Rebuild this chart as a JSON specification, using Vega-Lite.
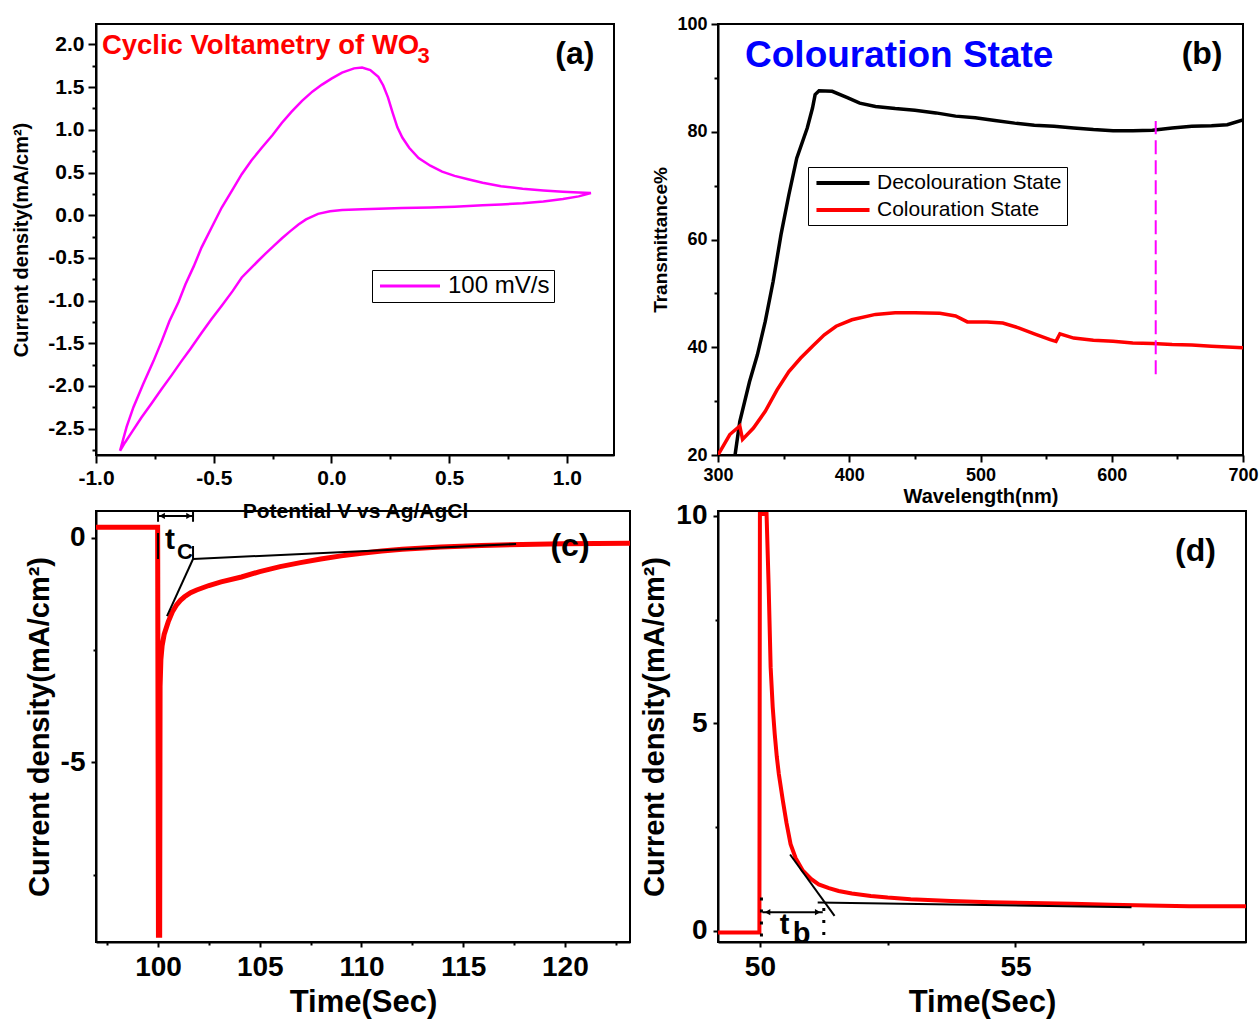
{
  "$schema": "https://vega.github.io/schema/vega-lite/v6.json",
  "background": "white",
  "padding": {"left": 10, "top": 14, "right": 1, "bottom": 1},
  "bounds": "flush",
  "columns": 2,
  "spacing": {"row": 56, "column": 88},
  "config": {
    "font": "Liberation Sans",
    "view": {"stroke": "black", "strokeWidth": 2},
    "axis": {"domainColor": "black", "domainWidth": 2, "tickColor": "black", "tickWidth": 2, "labelColor": "black", "titleColor": "black", "labelFont": "Liberation Sans", "titleFont": "Liberation Sans", "labelFontWeight": "bold", "titleFontWeight": "bold", "grid": false, "labelFlush": false, "labelOverlap": false}
  },
  "resolve": {"scale": {"x": "independent", "y": "independent", "color": "independent"}, "legend": {"color": "independent"}},
  "concat": [
        {
          "width": 518, "height": 431,
          "resolve": {"axis": {"y": "independent"}},
          "layer": [
            {
              "data": {"values": [
                {"i":1,"V":-0.898,"J":-2.76,"s":"100 mV/s"},{"i":2,"V":-0.87,"J":-2.48,"s":"100 mV/s"},{"i":3,"V":-0.841,"J":-2.25,"s":"100 mV/s"},{"i":4,"V":-0.8,"J":-1.98,"s":"100 mV/s"},{"i":5,"V":-0.756,"J":-1.71,"s":"100 mV/s"},{"i":6,"V":-0.72,"J":-1.47,"s":"100 mV/s"},{"i":7,"V":-0.688,"J":-1.24,"s":"100 mV/s"},{"i":8,"V":-0.65,"J":-1.02,"s":"100 mV/s"},{"i":9,"V":-0.62,"J":-0.81,"s":"100 mV/s"},{"i":10,"V":-0.585,"J":-0.6,"s":"100 mV/s"},{"i":11,"V":-0.552,"J":-0.38,"s":"100 mV/s"},{"i":12,"V":-0.51,"J":-0.15,"s":"100 mV/s"},{"i":13,"V":-0.466,"J":0.09,"s":"100 mV/s"},{"i":14,"V":-0.42,"J":0.3,"s":"100 mV/s"},{"i":15,"V":-0.381,"J":0.48,"s":"100 mV/s"},{"i":16,"V":-0.34,"J":0.64,"s":"100 mV/s"},{"i":17,"V":-0.296,"J":0.79,"s":"100 mV/s"},{"i":18,"V":-0.25,"J":0.94,"s":"100 mV/s"},{"i":19,"V":-0.211,"J":1.08,"s":"100 mV/s"},{"i":20,"V":-0.17,"J":1.21,"s":"100 mV/s"},{"i":21,"V":-0.125,"J":1.34,"s":"100 mV/s"},{"i":22,"V":-0.08,"J":1.45,"s":"100 mV/s"},{"i":23,"V":-0.04,"J":1.53,"s":"100 mV/s"},{"i":24,"V":0.0,"J":1.6,"s":"100 mV/s"},{"i":25,"V":0.045,"J":1.67,"s":"100 mV/s"},{"i":26,"V":0.096,"J":1.72,"s":"100 mV/s"},{"i":27,"V":0.13,"J":1.73,"s":"100 mV/s"},{"i":28,"V":0.165,"J":1.7,"s":"100 mV/s"},{"i":29,"V":0.199,"J":1.62,"s":"100 mV/s"},{"i":30,"V":0.22,"J":1.52,"s":"100 mV/s"},{"i":31,"V":0.24,"J":1.38,"s":"100 mV/s"},{"i":32,"V":0.26,"J":1.2,"s":"100 mV/s"},{"i":33,"V":0.28,"J":1.03,"s":"100 mV/s"},{"i":34,"V":0.301,"J":0.91,"s":"100 mV/s"},{"i":35,"V":0.33,"J":0.79,"s":"100 mV/s"},{"i":36,"V":0.37,"J":0.67,"s":"100 mV/s"},{"i":37,"V":0.42,"J":0.58,"s":"100 mV/s"},{"i":38,"V":0.47,"J":0.51,"s":"100 mV/s"},{"i":39,"V":0.523,"J":0.46,"s":"100 mV/s"},{"i":40,"V":0.58,"J":0.42,"s":"100 mV/s"},{"i":41,"V":0.642,"J":0.38,"s":"100 mV/s"},{"i":42,"V":0.72,"J":0.34,"s":"100 mV/s"},{"i":43,"V":0.812,"J":0.31,"s":"100 mV/s"},{"i":44,"V":0.9,"J":0.29,"s":"100 mV/s"},{"i":45,"V":0.983,"J":0.275,"s":"100 mV/s"},{"i":46,"V":1.05,"J":0.265,"s":"100 mV/s"},{"i":47,"V":1.102,"J":0.26,"s":"100 mV/s"},
                {"i":48,"V":1.05,"J":0.22,"s":"100 mV/s"},{"i":49,"V":0.983,"J":0.19,"s":"100 mV/s"},{"i":50,"V":0.9,"J":0.16,"s":"100 mV/s"},{"i":51,"V":0.812,"J":0.14,"s":"100 mV/s"},{"i":52,"V":0.72,"J":0.125,"s":"100 mV/s"},{"i":53,"V":0.642,"J":0.115,"s":"100 mV/s"},{"i":54,"V":0.523,"J":0.1,"s":"100 mV/s"},{"i":55,"V":0.42,"J":0.09,"s":"100 mV/s"},{"i":56,"V":0.3,"J":0.085,"s":"100 mV/s"},{"i":57,"V":0.2,"J":0.075,"s":"100 mV/s"},{"i":58,"V":0.13,"J":0.07,"s":"100 mV/s"},{"i":59,"V":0.045,"J":0.06,"s":"100 mV/s"},{"i":60,"V":-0.006,"J":0.045,"s":"100 mV/s"},{"i":61,"V":-0.057,"J":0.015,"s":"100 mV/s"},{"i":62,"V":-0.108,"J":-0.05,"s":"100 mV/s"},{"i":63,"V":-0.14,"J":-0.11,"s":"100 mV/s"},{"i":64,"V":-0.176,"J":-0.19,"s":"100 mV/s"},{"i":65,"V":-0.21,"J":-0.27,"s":"100 mV/s"},{"i":66,"V":-0.245,"J":-0.36,"s":"100 mV/s"},{"i":67,"V":-0.28,"J":-0.45,"s":"100 mV/s"},{"i":68,"V":-0.313,"J":-0.54,"s":"100 mV/s"},{"i":69,"V":-0.345,"J":-0.63,"s":"100 mV/s"},{"i":70,"V":-0.381,"J":-0.73,"s":"100 mV/s"},{"i":71,"V":-0.42,"J":-0.89,"s":"100 mV/s"},{"i":72,"V":-0.466,"J":-1.06,"s":"100 mV/s"},{"i":73,"V":-0.51,"J":-1.22,"s":"100 mV/s"},{"i":74,"V":-0.552,"J":-1.38,"s":"100 mV/s"},{"i":75,"V":-0.6,"J":-1.57,"s":"100 mV/s"},{"i":76,"V":-0.637,"J":-1.71,"s":"100 mV/s"},{"i":77,"V":-0.68,"J":-1.88,"s":"100 mV/s"},{"i":78,"V":-0.722,"J":-2.04,"s":"100 mV/s"},{"i":79,"V":-0.765,"J":-2.21,"s":"100 mV/s"},{"i":80,"V":-0.807,"J":-2.37,"s":"100 mV/s"},{"i":81,"V":-0.845,"J":-2.53,"s":"100 mV/s"},{"i":82,"V":-0.876,"J":-2.66,"s":"100 mV/s"},{"i":83,"V":-0.898,"J":-2.76,"s":"100 mV/s"}
              ]},
              "mark": {"type": "line", "strokeWidth": 2.5, "clip": true},
              "encoding": {
                "x": {"field": "V", "type": "quantitative", "scale": {"domain": [-1, 1.2], "nice": false, "zero": false},
                  "axis": {"values": [-1,-0.75,-0.5,-0.25,0,0.25,0.5,0.75,1], "format": ".1f", "labelOverlap": false, "labelExpr": "abs(round(datum.value*4))%2==0 ? replace(datum.label,'\u2212','-') : ''", "tickSize": {"condition": {"test": "abs(round(datum.value*4))%2==1", "value": 4}, "value": 8}, "labelFontSize": 21, "labelPadding": 4, "title": "Potential V vs Ag/AgCl", "titleFontSize": 21, "titlePadding": 12}},
                "y": {"field": "J", "type": "quantitative", "scale": {"domain": [-2.81, 2.24], "nice": false, "zero": false},
                  "axis": {"values": [-2.5,-2,-1.5,-1,-0.5,0,0.5,1,1.5,2], "format": ".1f", "labelOverlap": false, "labelExpr": "replace(datum.label,'\u2212','-')", "tickSize": 8, "labelFontSize": 21, "labelPadding": 4, "title": "Current density(mA/cm²)", "titleFontSize": 20, "titlePadding": 16}},
                "order": {"field": "i", "type": "quantitative"},
                "color": {"field": "s", "type": "nominal", "scale": {"domain": ["100 mV/s"], "range": ["#FF00FF"]},
                  "legend": {"title": null, "orient": "none", "legendX": 276, "legendY": 246, "symbolType": "M-3,0H3", "symbolSize": 400, "symbolOffset": 22, "labelOffset": 26, "symbolStrokeWidth": 3, "labelFontSize": 24, "labelFont": "Liberation Sans", "labelFontWeight": "normal", "labelColor": "black", "labelLimit": 400, "strokeColor": "black", "padding": 4, "fillColor": "white"}}
              }
            },
            {
              "data": {"values": [{"x": 0, "y": 0}]},
              "mark": {"type": "point", "opacity": 0},
              "encoding": {
                "x": {"field": "x", "type": "quantitative"},
                "y": {"field": "y", "type": "quantitative", "axis": {"orient": "left", "values": [-2.75,-2.25,-1.75,-1.25,-0.75,-0.25,0.25,0.75,1.25,1.75], "labels": false, "domain": false, "tickSize": 4, "title": null, "offset": 0}}
              }
            },
            {
              "data": {"values": [{"x": -0.975, "y": 1.889, "t": "Cyclic Voltametry of WO"}]},
              "mark": {"type": "text", "color": "#FF0000", "fontSize": 27.5, "fontWeight": "bold", "align": "left", "baseline": "alphabetic"},
              "encoding": {"x": {"field": "x", "type": "quantitative"}, "y": {"field": "y", "type": "quantitative", "axis": null}, "text": {"field": "t"}}
            },
            {
              "data": {"values": [{"x": 0.365, "y": 1.783, "t": "3"}]},
              "mark": {"type": "text", "color": "#FF0000", "fontSize": 22, "fontWeight": "bold", "align": "left", "baseline": "alphabetic"},
              "encoding": {"x": {"field": "x", "type": "quantitative"}, "y": {"field": "y", "type": "quantitative", "axis": null}, "text": {"field": "t"}}
            },
            {
              "data": {"values": [{"x": 1.034, "y": 1.771, "t": "(a)"}]},
              "mark": {"type": "text", "color": "black", "fontSize": 32, "fontWeight": "bold", "align": "center", "baseline": "alphabetic"},
              "encoding": {"x": {"field": "x", "type": "quantitative"}, "y": {"field": "y", "type": "quantitative", "axis": null}, "text": {"field": "t"}}
            }
          ]
        },
        {
          "width": 525, "height": 431,
          "layer": [
            {
              "data": {"values": [
                {"w":313,"T":20,"s":"Decolouration State"},{"w":316.6,"T":26.2,"s":"Decolouration State"},{"w":324,"T":33.6,"s":"Decolouration State"},{"w":330,"T":38.6,"s":"Decolouration State"},{"w":336,"T":44.8,"s":"Decolouration State"},{"w":342,"T":52.2,"s":"Decolouration State"},{"w":348,"T":60.9,"s":"Decolouration State"},{"w":354,"T":68.3,"s":"Decolouration State"},{"w":360,"T":75.1,"s":"Decolouration State"},{"w":368,"T":80.7,"s":"Decolouration State"},{"w":372,"T":84.4,"s":"Decolouration State"},{"w":374,"T":86.9,"s":"Decolouration State"},{"w":377,"T":87.6,"s":"Decolouration State"},{"w":387,"T":87.5,"s":"Decolouration State"},{"w":399,"T":86.3,"s":"Decolouration State"},{"w":408,"T":85.3,"s":"Decolouration State"},{"w":420,"T":84.7,"s":"Decolouration State"},{"w":435,"T":84.3,"s":"Decolouration State"},{"w":450,"T":84.0,"s":"Decolouration State"},{"w":466,"T":83.5,"s":"Decolouration State"},{"w":481,"T":82.9,"s":"Decolouration State"},{"w":496,"T":82.6,"s":"Decolouration State"},{"w":511,"T":82.1,"s":"Decolouration State"},{"w":526,"T":81.6,"s":"Decolouration State"},{"w":541,"T":81.2,"s":"Decolouration State"},{"w":556,"T":81.0,"s":"Decolouration State"},{"w":571,"T":80.7,"s":"Decolouration State"},{"w":586,"T":80.4,"s":"Decolouration State"},{"w":601,"T":80.2,"s":"Decolouration State"},{"w":616,"T":80.2,"s":"Decolouration State"},{"w":631,"T":80.3,"s":"Decolouration State"},{"w":646,"T":80.7,"s":"Decolouration State"},{"w":661,"T":81.0,"s":"Decolouration State"},{"w":676,"T":81.1,"s":"Decolouration State"},{"w":688,"T":81.3,"s":"Decolouration State"},{"w":700,"T":82.2,"s":"Decolouration State"},
                {"w":300,"T":20,"s":"Colouration State"},{"w":309,"T":23.8,"s":"Colouration State"},{"w":316.6,"T":25.4,"s":"Colouration State"},{"w":318.7,"T":22.9,"s":"Colouration State"},{"w":327,"T":25.0,"s":"Colouration State"},{"w":336,"T":28.1,"s":"Colouration State"},{"w":345,"T":32.1,"s":"Colouration State"},{"w":354,"T":35.5,"s":"Colouration State"},{"w":363,"T":38.0,"s":"Colouration State"},{"w":372,"T":40.2,"s":"Colouration State"},{"w":381,"T":42.3,"s":"Colouration State"},{"w":390,"T":43.9,"s":"Colouration State"},{"w":402,"T":45.1,"s":"Colouration State"},{"w":420,"T":46.1,"s":"Colouration State"},{"w":435,"T":46.4,"s":"Colouration State"},{"w":450,"T":46.4,"s":"Colouration State"},{"w":469,"T":46.3,"s":"Colouration State"},{"w":481,"T":45.8,"s":"Colouration State"},{"w":490,"T":44.7,"s":"Colouration State"},{"w":505,"T":44.7,"s":"Colouration State"},{"w":517,"T":44.5,"s":"Colouration State"},{"w":529,"T":43.6,"s":"Colouration State"},{"w":541,"T":42.5,"s":"Colouration State"},{"w":553,"T":41.4,"s":"Colouration State"},{"w":557.5,"T":41.1,"s":"Colouration State"},{"w":560.5,"T":42.5,"s":"Colouration State"},{"w":571,"T":41.7,"s":"Colouration State"},{"w":586,"T":41.3,"s":"Colouration State"},{"w":601,"T":41.1,"s":"Colouration State"},{"w":616,"T":40.8,"s":"Colouration State"},{"w":631,"T":40.7,"s":"Colouration State"},{"w":646,"T":40.5,"s":"Colouration State"},{"w":661,"T":40.4,"s":"Colouration State"},{"w":676,"T":40.2,"s":"Colouration State"},{"w":700,"T":39.9,"s":"Colouration State"}
              ]},
              "mark": {"type": "line", "strokeWidth": 3.5, "clip": true},
              "encoding": {
                "x": {"field": "w", "type": "quantitative", "scale": {"domain": [300, 700], "nice": false, "zero": false},
                  "axis": {"values": [300,350,400,450,500,550,600,650,700], "format": "d", "labelOverlap": false, "labelExpr": "datum.value%100==0 ? datum.label : ''", "tickSize": {"condition": {"test": "datum.value%100!=0", "value": 4}, "value": 7}, "labelFontSize": 18, "labelPadding": 4, "title": "Wavelength(nm)", "titleFontSize": 20, "titlePadding": 2}},
                "y": {"field": "T", "type": "quantitative", "scale": {"domain": [20, 100], "nice": false, "zero": false},
                  "axis": {"values": [20,30,40,50,60,70,80,90,100], "format": "d", "labelOverlap": false, "labelExpr": "datum.value%20==0 ? datum.label : ''", "tickSize": {"condition": {"test": "datum.value%20!=0", "value": 4}, "value": 7}, "labelFontSize": 18, "labelPadding": 4, "title": "Transmittance%", "titleFontSize": 19, "titlePadding": 6}},
                "color": {"field": "s", "type": "nominal", "scale": {"domain": ["Decolouration State", "Colouration State"], "range": ["#000000", "#FF0000"]},
                  "legend": {"title": null, "orient": "none", "legendX": 90, "legendY": 143, "symbolType": "M-3,0H3", "symbolSize": 313, "symbolOffset": 19, "labelOffset": 23, "symbolStrokeWidth": 4, "labelFontSize": 21, "labelFont": "Liberation Sans", "labelFontWeight": "normal", "labelColor": "black", "labelLimit": 400, "rowPadding": 6, "strokeColor": "black", "padding": 5, "fillColor": "white"}}
              }
            },
            {
              "data": {"values": [{"x": 633.5, "y": 35, "y2": 82}]},
              "mark": {"type": "rule", "color": "#FF00FF", "strokeWidth": 2, "strokeDash": [14, 6]},
              "encoding": {"x": {"field": "x", "type": "quantitative"}, "y": {"field": "y", "type": "quantitative"}, "y2": {"field": "y2"}}
            },
            {
              "data": {"values": [{"x": 320.6, "y": 92.0, "t": "Colouration State"}]},
              "mark": {"type": "text", "color": "#0000FF", "fontSize": 37, "fontWeight": "bold", "align": "left", "baseline": "alphabetic"},
              "encoding": {"x": {"field": "x", "type": "quantitative"}, "y": {"field": "y", "type": "quantitative"}, "text": {"field": "t"}}
            },
            {
              "data": {"values": [{"x": 668.8, "y": 92.6, "t": "(b)"}]},
              "mark": {"type": "text", "color": "black", "fontSize": 32, "fontWeight": "bold", "align": "center", "baseline": "alphabetic"},
              "encoding": {"x": {"field": "x", "type": "quantitative"}, "y": {"field": "y", "type": "quantitative"}, "text": {"field": "t"}}
            }
          ]
        },
        {
          "width": 534, "height": 431,
          "layer": [
            {
              "data": {"values": [
                {"t":96.95,"j":0.24},{"t":99.98,"j":0.24},{"t":100.02,"j":-8.85},{"t":100.08,"j":-8.85},{"t":100.1,"j":-3.3},{"t":100.14,"j":-2.7},{"t":100.2,"j":-2.4},{"t":100.3,"j":-2.15},{"t":100.5,"j":-1.87},{"t":100.7,"j":-1.65},{"t":100.9,"j":-1.5},{"t":101.1,"j":-1.39},{"t":101.3,"j":-1.31},{"t":101.6,"j":-1.22},{"t":101.9,"j":-1.16},{"t":102.5,"j":-1.06},{"t":103.1,"j":-0.98},{"t":104.1,"j":-0.87},{"t":105,"j":-0.75},{"t":106,"j":-0.64},{"t":107,"j":-0.55},{"t":108,"j":-0.47},{"t":109,"j":-0.4},{"t":110,"j":-0.34},{"t":111,"j":-0.29},{"t":112,"j":-0.25},{"t":113.9,"j":-0.2},{"t":115.9,"j":-0.17},{"t":117.9,"j":-0.145},{"t":119.9,"j":-0.13},{"t":123.2,"j":-0.12}
              ]},
              "mark": {"type": "line", "color": "#FF0000", "strokeWidth": 5, "clip": true},
              "encoding": {
                "x": {"field": "t", "type": "quantitative", "scale": {"domain": [96.95, 123.2], "nice": false, "zero": false},
                  "axis": {"values": [97.5,100,102.5,105,107.5,110,112.5,115,117.5,120,122.5], "format": "d", "labelOverlap": false, "labelExpr": "datum.value%5==0 ? datum.label : ''", "tickSize": {"condition": {"test": "datum.value%5!=0", "value": 3}, "value": 5}, "labelFontSize": 28, "labelPadding": 6, "title": "Time(Sec)", "titleFontSize": 31, "titlePadding": 6}},
                "y": {"field": "j", "type": "quantitative", "scale": {"domain": [-9, 0.6], "nice": false, "zero": false},
                  "axis": {"values": [-7.5,-5,-2.5,0], "format": "d", "labelOverlap": false, "labelExpr": "datum.value%5==0 ? replace(datum.label,'\u2212','-') : ''", "tickSize": {"condition": {"test": "datum.value%5!=0", "value": 3}, "value": 5}, "labelFontSize": 28, "labelPadding": 6, "title": "Current density(mA/cm²)", "titleFontSize": 29, "titlePadding": 6}}
              }
            },
            {
              "data": {"values": [
                {"x":100.44,"y":-1.74,"x2":101.72,"y2":-0.47},{"x":101.72,"y":-0.47,"x2":117.6,"y2":-0.135},{"x":100,"y":0.49,"x2":101.72,"y2":0.49},{"x":100,"y":0.6,"x2":100,"y2":0.36},{"x":101.72,"y":0.6,"x2":101.72,"y2":0.36},{"x":100,"y":0.11,"x2":100,"y2":-0.47},{"x":101.72,"y":-0.18,"x2":101.72,"y2":-0.47}
              ]},
              "mark": {"type": "rule", "color": "black", "strokeWidth": 2},
              "encoding": {"x": {"field": "x", "type": "quantitative"}, "y": {"field": "y", "type": "quantitative"}, "x2": {"field": "x2"}, "y2": {"field": "y2"}}
            },
            {
              "data": {"values": [{"x": 100.2, "y": 0.49, "sh": "triangle-left"}, {"x": 101.52, "y": 0.49, "sh": "triangle-right"}]},
              "mark": {"type": "point", "filled": true, "color": "black", "size": 40, "opacity": 1},
              "encoding": {"x": {"field": "x", "type": "quantitative"}, "y": {"field": "y", "type": "quantitative"}, "shape": {"field": "sh", "type": "nominal", "scale": null}}
            },
            {
              "data": {"values": [{"x": 100.34, "y": -0.246, "t": "t"}]},
              "mark": {"type": "text", "color": "black", "fontSize": 30, "fontWeight": "bold", "align": "left", "baseline": "alphabetic"},
              "encoding": {"x": {"field": "x", "type": "quantitative"}, "y": {"field": "y", "type": "quantitative"}, "text": {"field": "t"}}
            },
            {
              "data": {"values": [{"x": 100.93, "y": -0.47, "t": "C"}]},
              "mark": {"type": "text", "color": "black", "fontSize": 22, "fontWeight": "bold", "align": "left", "baseline": "alphabetic"},
              "encoding": {"x": {"field": "x", "type": "quantitative"}, "y": {"field": "y", "type": "quantitative"}, "text": {"field": "t"}}
            },
            {
              "data": {"values": [{"x": 120.25, "y": -0.4, "t": "(c)"}]},
              "mark": {"type": "text", "color": "black", "fontSize": 32, "fontWeight": "bold", "align": "center", "baseline": "alphabetic"},
              "encoding": {"x": {"field": "x", "type": "quantitative"}, "y": {"field": "y", "type": "quantitative"}, "text": {"field": "t"}}
            }
          ]
        },
        {
          "width": 528, "height": 431,
          "layer": [
            {
              "data": {"values": [
                {"t":49.18,"j":-0.04},{"t":49.99,"j":-0.04},{"t":50.0,"j":10.05},{"t":50.13,"j":10.05},{"t":50.17,"j":8.35},{"t":50.21,"j":6.35},{"t":50.25,"j":5.4},{"t":50.29,"j":4.74},{"t":50.33,"j":4.2},{"t":50.37,"j":3.78},{"t":50.45,"j":3.13},{"t":50.52,"j":2.6},{"t":50.6,"j":2.09},{"t":50.7,"j":1.75},{"t":50.84,"j":1.45},{"t":51.0,"j":1.25},{"t":51.15,"j":1.12},{"t":51.35,"j":1.03},{"t":51.54,"j":0.96},{"t":51.8,"j":0.9},{"t":52.17,"j":0.84},{"t":52.5,"j":0.8},{"t":52.95,"j":0.76},{"t":53.74,"j":0.72},{"t":54.5,"j":0.69},{"t":55.3,"j":0.67},{"t":56.1,"j":0.65},{"t":56.87,"j":0.63},{"t":57.6,"j":0.61},{"t":58.4,"j":0.59},{"t":59.51,"j":0.59}
              ]},
              "mark": {"type": "line", "color": "#FF0000", "strokeWidth": 4, "clip": true},
              "encoding": {
                "x": {"field": "t", "type": "quantitative", "scale": {"domain": [49.18, 59.51], "nice": false, "zero": false},
                  "axis": {"values": [50,52.5,55,57.5], "format": "d", "labelOverlap": false, "labelExpr": "datum.value%5==0 ? datum.label : ''", "tickSize": {"condition": {"test": "datum.value%5!=0", "value": 3}, "value": 5}, "labelFontSize": 28, "labelPadding": 6, "title": "Time(Sec)", "titleFontSize": 31, "titlePadding": 6}},
                "y": {"field": "j", "type": "quantitative", "scale": {"domain": [-0.27, 10.12], "nice": false, "zero": false},
                  "axis": {"values": [0,2.5,5,7.5,10], "format": "d", "labelOverlap": false, "labelExpr": "datum.value%5==0 ? datum.label : ''", "tickSize": {"condition": {"test": "datum.value%5!=0", "value": 3}, "value": 5}, "labelFontSize": 28, "labelPadding": 6, "title": "Current density(mA/cm²)", "titleFontSize": 29, "titlePadding": 6}}
              }
            },
            {
              "data": {"values": [
                {"x":50.59,"y":1.84,"x2":51.46,"y2":0.36},{"x":51.13,"y":0.68,"x2":57.27,"y2":0.57},{"x":50.05,"y":0.45,"x2":51.23,"y2":0.45}
              ]},
              "mark": {"type": "rule", "color": "black", "strokeWidth": 2},
              "encoding": {"x": {"field": "x", "type": "quantitative"}, "y": {"field": "y", "type": "quantitative"}, "x2": {"field": "x2"}, "y2": {"field": "y2"}}
            },
            {
              "data": {"values": [
                {"x":50.03,"y":0.8,"x2":50.03,"y2":-0.27},{"x":51.25,"y":0.55,"x2":51.25,"y2":-0.27}
              ]},
              "mark": {"type": "rule", "color": "black", "strokeWidth": 3, "strokeDash": [3, 9]},
              "encoding": {"x": {"field": "x", "type": "quantitative"}, "y": {"field": "y", "type": "quantitative"}, "x2": {"field": "x2"}, "y2": {"field": "y2"}}
            },
            {
              "data": {"values": [{"x": 50.15, "y": 0.45, "sh": "triangle-left"}, {"x": 51.13, "y": 0.45, "sh": "triangle-right"}]},
              "mark": {"type": "point", "filled": true, "color": "black", "size": 40, "opacity": 1},
              "encoding": {"x": {"field": "x", "type": "quantitative"}, "y": {"field": "y", "type": "quantitative"}, "shape": {"field": "sh", "type": "nominal", "scale": null}}
            },
            {
              "data": {"values": [{"x": 50.39, "y": -0.077, "t": "t"}, {"x": 50.64, "y": -0.29, "t": "b"}]},
              "mark": {"type": "text", "color": "black", "fontSize": 29, "fontWeight": "bold", "align": "left", "baseline": "alphabetic"},
              "encoding": {"x": {"field": "x", "type": "quantitative"}, "y": {"field": "y", "type": "quantitative"}, "text": {"field": "t"}}
            },
            {
              "data": {"values": [{"x": 58.52, "y": 8.91, "t": "(d)"}]},
              "mark": {"type": "text", "color": "black", "fontSize": 32, "fontWeight": "bold", "align": "center", "baseline": "alphabetic"},
              "encoding": {"x": {"field": "x", "type": "quantitative"}, "y": {"field": "y", "type": "quantitative"}, "text": {"field": "t"}}
            }
          ]
        }
  ]
}
